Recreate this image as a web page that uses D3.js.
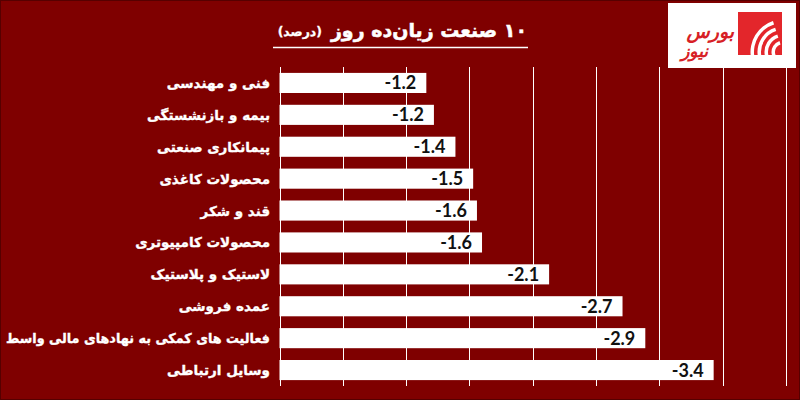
<!DOCTYPE html>
<html>
<head>
<meta charset="utf-8">
<script src="https://cdn.jsdelivr.net/npm/d3@7"></script>
<style>
  html, body { margin: 0; padding: 0; background: #fff; }
  svg { display: block; }
</style>
</head>
<body>
<svg id="chart" width="800" height="400"></svg>
<script>
const categories = [
  "فنی و مهندسی",
  "بیمه و بازنشستگی",
  "پیمانکاری صنعتی",
  "محصولات کاغذی",
  "قند و شکر",
  "محصولات کامپیوتری",
  "لاستیک و پلاستیک",
  "عمده فروشی",
  "فعالیت های کمکی به نهادهای مالی واسط",
  "وسایل ارتباطی"
];
const values = [-1.16, -1.22, -1.39, -1.53, -1.56, -1.60, -2.13, -2.71, -2.89, -3.43];
const xTicks = [0, -0.5, -1, -1.5, -2, -2.5, -3, -3.5, -4];
const titleMain = "۱۰ صنعت زیان‌ده روز";
const titleUnit = "(درصد)";
const logoWord1 = "بورس";
const logoWord2 = "نیوز";

const svg = d3.select("#chart");
const W = 800, H = 400;
const bg = "#7f0000";

svg.append("rect").attr("x", 0).attr("y", 0).attr("width", W).attr("height", H).attr("fill", bg);
svg.append("rect").attr("x", 0.5).attr("y", 0.5).attr("width", W - 1).attr("height", H - 1)
  .attr("fill", "none").attr("stroke", "#560000").attr("stroke-width", 1);

const plot = { left: 279.5, right: 785.8, top: 67, bottom: 386 };

const x = d3.scaleLinear().domain([0, -4]).range([plot.left, plot.right]);
const y = d3.scaleBand().domain(categories).range([plot.top, plot.bottom]).paddingInner(0.37).paddingOuter(0.185);

// gridlines
svg.append("g").selectAll("line").data(xTicks).join("line")
  .attr("x1", d => Math.round(x(d)) + 0.5).attr("x2", d => Math.round(x(d)) + 0.5)
  .attr("y1", plot.top).attr("y2", plot.bottom)
  .attr("stroke", "#ffffff").attr("stroke-width", 1);

// bars
svg.append("g").selectAll("rect").data(values).join("rect")
  .attr("x", x(0))
  .attr("y", (d, i) => y(categories[i]))
  .attr("width", d => x(d) - x(0))
  .attr("height", y.bandwidth())
  .attr("fill", "#ffffff");

// value labels
svg.append("g").selectAll("text").data(values).join("text")
  .attr("x", d => x(d) - 10)
  .attr("y", (d, i) => y(categories[i]) + y.bandwidth() / 2 + 6.5)
  .attr("text-anchor", "end")
  .attr("font-family", "Lato, 'Open Sans', sans-serif")
  .attr("font-weight", "bold")
  .attr("font-size", 18)
  .attr("fill", "#111111")
  .text(d => d.toFixed(1));

// category labels
const catLabels = svg.append("g").selectAll("text").data(categories).join("text")
  .attr("x", 270)
  .attr("y", d => y(d) + y.bandwidth() / 2 + 5)
  .attr("text-anchor", "end")
  .attr("font-family", "'DejaVu Sans', sans-serif")
  .attr("font-weight", "bold")
  .attr("font-size", 13.5)
  .attr("fill", "#ffffff")
  .attr("stroke", "#ffffff")
  .attr("stroke-width", 0.35)
  .text(d => d);
catLabels.each(function() {
  const w = this.getComputedTextLength();
  if (w > 264) {
    d3.select(this).attr("textLength", 264).attr("lengthAdjust", "spacingAndGlyphs");
  }
});

// title
function rightAlign(sel, rightX) {
  const bb = sel.node().getBBox();
  const cur = +sel.attr("x");
  sel.attr("x", cur + (rightX - (bb.x + bb.width)));
}
const t1 = svg.append("text")
  .attr("x", 527).attr("y", 37)
  .attr("direction", "rtl")
  .style("direction", "rtl").style("unicode-bidi", "embed")
  .attr("font-family", "'DejaVu Sans', sans-serif")
  .attr("font-weight", "bold").attr("font-size", 19)
  .attr("fill", "#ffffff").attr("stroke", "#ffffff").attr("stroke-width", 0.5)
  .text(titleMain);
rightAlign(t1, 527);
const t2 = svg.append("text")
  .attr("x", 322).attr("y", 36)
  .attr("direction", "rtl")
  .style("direction", "rtl").style("unicode-bidi", "embed")
  .attr("font-family", "'DejaVu Sans', sans-serif")
  .attr("font-weight", "bold").attr("font-size", 12.5)
  .attr("fill", "#ffffff").attr("stroke", "#ffffff").attr("stroke-width", 0.3)
  .text(titleUnit);
rightAlign(t2, 322);
svg.append("line").attr("x1", 273).attr("x2", 528).attr("y1", 47.5).attr("y2", 47.5)
  .attr("stroke", "#ffffff").attr("stroke-width", 1.5);

// logo
const logo = svg.append("g");
logo.append("rect").attr("x", 668).attr("y", 3).attr("width", 128).attr("height", 65).attr("fill", "#ffffff");
svg.append("defs").append("clipPath").attr("id", "logoClip")
  .append("rect").attr("x", 738).attr("y", 12).attr("width", 44).attr("height", 43);
logo.append("rect").attr("x", 738).attr("y", 12).attr("width", 44).attr("height", 43).attr("fill", "#e3262b");
const arcsG = logo.append("g").attr("clip-path", "url(#logoClip)");
[8, 15, 22, 29].forEach(r => {
  const arc = d3.arc().innerRadius(r).outerRadius(r + 3.5).startAngle(-Math.PI * 1.0).endAngle(-Math.PI * 0.1);
  arcsG.append("path").attr("d", arc()).attr("transform", "translate(783,52)").attr("fill", "#ffffff");
});
logo.append("text")
  .attr("x", 734).attr("y", 38)
  .attr("text-anchor", "end")
  .attr("font-family", "'DejaVu Sans', sans-serif")
  .attr("font-weight", "bold").attr("font-style", "italic")
  .attr("font-size", 19)
  .attr("fill", "#d71f26")
  .text(logoWord1);
logo.append("text")
  .attr("x", 708).attr("y", 57)
  .attr("text-anchor", "end")
  .attr("font-family", "'DejaVu Sans', sans-serif")
  .attr("font-weight", "bold").attr("font-style", "italic")
  .attr("font-size", 17)
  .attr("fill", "#d71f26")
  .text(logoWord2);
</script>
</body>
</html>
